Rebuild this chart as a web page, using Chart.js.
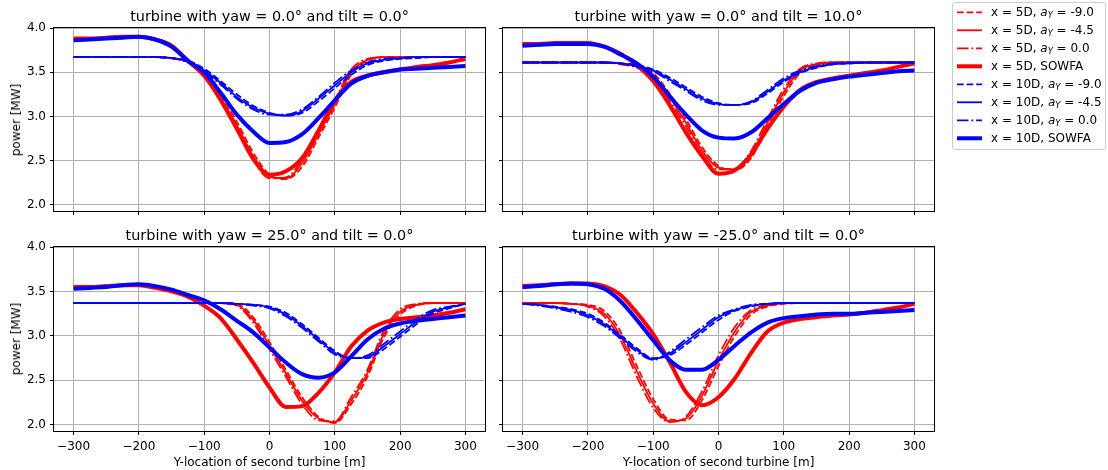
<!DOCTYPE html>
<html>
<head>
<meta charset="utf-8">
<script src="https://cdn.jsdelivr.net/npm/chart.js@4.4.1/dist/chart.umd.min.js"></script>
<style>
  html, body { margin: 0; padding: 0; background: #fff; }
  #fig { position: relative; width: 1108px; height: 470px; overflow: hidden;
         font-family: 'DejaVu Sans', sans-serif; color: #000; }
  #fig canvas { position: absolute; }
  .title { position: absolute; font-size: 14.4px; line-height: 1; white-space: nowrap; transform: translateX(-50%); }
  .ylab  { position: absolute; font-size: 12px; line-height: 1; white-space: nowrap; transform: translate(-50%, -50%) rotate(-90deg); }
  .xlab  { position: absolute; font-size: 12px; line-height: 1; white-space: nowrap; transform: translateX(-50%); }
  #legend { position: absolute; left: 952px; top: 2px; width: 154px; height: 148px; box-sizing: border-box;
            border: 1px solid #cccccc; border-radius: 3px; background: rgba(255,255,255,0.8); }
  #legend svg { position: absolute; left: 0; top: 0; }
  .lg-row { position: absolute; left: 38px; font-size: 12px; line-height: 1; white-space: nowrap; }
  .lg-row sub { font-size: 70%; font-style: italic; vertical-align: -0.25em; line-height: 0; }
</style>
</head>
<body>
<div id="fig"></div>
<script>
/* ═══════════════════════════════════════════════════════════
   Potencia de la segunda turbina vs. posición lateral
   4 paneles (yaw / tilt) + leyenda común
   ═══════════════════════════════════════════════════════════ */
(function () {
    'use strict';

    // ─── Datos ───
    const yLoc = [-300, -275, -250, -225, -200, -175, -150, -125, -100, -75, -50, -25, 0,
                  25, 50, 75, 100, 125, 150, 175, 200, 225, 250, 275, 300];

    const xTicks = [-300, -200, -100, 0, 100, 200, 300];
    const yTicks = [2.0, 2.5, 3.0, 3.5, 4.0];

    const titles = [
        'turbine with yaw = 0.0° and tilt = 0.0°',
        'turbine with yaw = 0.0° and tilt = 10.0°',
        'turbine with yaw = 25.0° and tilt = 0.0°',
        'turbine with yaw = -25.0° and tilt = 0.0°'
    ];

    const distances = ['5D', '10D'];
    const aYs = ['-9.0', '-4.5', '0.0'];

    // panel 1: yaw 0, tilt 0
    const p1_5D_a9     = [3.67,3.67,3.67,3.67,3.67,3.67,3.66,3.63,3.51,3.25,2.94,2.59,2.34,2.29,2.43,2.76,3.10,3.47,3.63,3.67,3.67,3.67,3.67,3.67,3.67];
    const p1_5D_a45    = [3.67,3.67,3.67,3.67,3.67,3.67,3.66,3.62,3.48,3.21,2.90,2.55,2.32,2.30,2.47,2.80,3.14,3.50,3.64,3.67,3.67,3.67,3.67,3.67,3.67];
    const p1_5D_a0     = [3.67,3.67,3.67,3.67,3.67,3.67,3.66,3.61,3.45,3.17,2.86,2.51,2.30,2.31,2.51,2.84,3.18,3.53,3.65,3.67,3.67,3.67,3.67,3.67,3.67];
    const p1_5D_sowfa  = [3.88,3.88,3.89,3.90,3.90,3.87,3.80,3.63,3.46,3.19,2.86,2.52,2.34,2.38,2.53,2.84,3.18,3.39,3.46,3.50,3.53,3.56,3.58,3.61,3.65];
    const p1_10D_a9    = [3.67,3.67,3.67,3.67,3.67,3.67,3.66,3.63,3.54,3.40,3.25,3.12,3.04,3.01,3.04,3.17,3.32,3.47,3.58,3.63,3.65,3.66,3.67,3.67,3.67];
    const p1_10D_a45   = [3.67,3.67,3.67,3.67,3.67,3.67,3.66,3.62,3.52,3.38,3.22,3.10,3.03,3.01,3.06,3.20,3.35,3.50,3.60,3.64,3.66,3.67,3.67,3.67,3.67];
    const p1_10D_a0    = [3.67,3.67,3.67,3.67,3.67,3.67,3.66,3.61,3.50,3.36,3.20,3.08,3.02,3.02,3.08,3.22,3.38,3.52,3.61,3.65,3.66,3.67,3.67,3.67,3.67];
    const p1_10D_sowfa = [3.86,3.87,3.88,3.89,3.90,3.87,3.79,3.63,3.50,3.27,3.02,2.83,2.70,2.71,2.80,2.98,3.18,3.37,3.46,3.50,3.53,3.54,3.55,3.56,3.57];

    // panel 2: yaw 0, tilt 10
    const p2_5D_a9     = [3.61,3.61,3.61,3.61,3.61,3.61,3.60,3.57,3.49,3.26,2.97,2.65,2.44,2.39,2.53,2.89,3.23,3.49,3.58,3.61,3.61,3.61,3.61,3.61,3.61];
    const p2_5D_a45    = [3.61,3.61,3.61,3.61,3.61,3.61,3.60,3.56,3.46,3.22,2.93,2.61,2.42,2.40,2.57,2.93,3.27,3.52,3.59,3.61,3.61,3.61,3.61,3.61,3.61];
    const p2_5D_a0     = [3.61,3.61,3.61,3.61,3.61,3.61,3.59,3.55,3.43,3.18,2.89,2.57,2.40,2.41,2.61,2.97,3.31,3.54,3.60,3.61,3.61,3.61,3.61,3.61,3.61];
    const p2_5D_sowfa  = [3.82,3.82,3.83,3.83,3.83,3.79,3.71,3.58,3.40,3.13,2.82,2.55,2.35,2.39,2.57,2.86,3.11,3.30,3.39,3.43,3.46,3.49,3.52,3.56,3.60];
    const p2_10D_a9    = [3.61,3.61,3.61,3.61,3.61,3.61,3.60,3.58,3.53,3.44,3.33,3.22,3.15,3.13,3.15,3.26,3.39,3.49,3.55,3.59,3.60,3.61,3.61,3.61,3.61];
    const p2_10D_a45   = [3.61,3.61,3.61,3.61,3.61,3.61,3.60,3.57,3.52,3.42,3.31,3.20,3.14,3.13,3.16,3.28,3.41,3.50,3.56,3.59,3.60,3.61,3.61,3.61,3.61];
    const p2_10D_a0    = [3.61,3.61,3.61,3.61,3.61,3.61,3.60,3.56,3.51,3.40,3.29,3.18,3.13,3.13,3.17,3.30,3.43,3.52,3.57,3.60,3.61,3.61,3.61,3.61,3.61];
    const p2_10D_sowfa = [3.80,3.81,3.82,3.82,3.82,3.79,3.70,3.60,3.45,3.23,3.02,2.84,2.76,2.75,2.82,2.98,3.14,3.29,3.38,3.42,3.45,3.47,3.49,3.51,3.52];

    // panel 3: yaw 25, tilt 0
    const p3_5D_a9     = [3.37,3.37,3.37,3.37,3.37,3.37,3.37,3.37,3.37,3.37,3.36,3.21,2.93,2.62,2.31,2.09,2.02,2.23,2.54,2.98,3.24,3.34,3.37,3.37,3.37];
    const p3_5D_a45    = [3.37,3.37,3.37,3.37,3.37,3.37,3.37,3.37,3.37,3.37,3.35,3.18,2.89,2.58,2.27,2.07,2.03,2.27,2.58,3.02,3.27,3.35,3.37,3.37,3.37];
    const p3_5D_a0     = [3.37,3.37,3.37,3.37,3.37,3.37,3.37,3.37,3.37,3.37,3.34,3.15,2.85,2.54,2.23,2.05,2.04,2.31,2.62,3.06,3.30,3.36,3.37,3.37,3.37];
    const p3_5D_sowfa  = [3.55,3.55,3.56,3.57,3.57,3.54,3.50,3.44,3.34,3.20,2.96,2.70,2.42,2.20,2.21,2.36,2.59,2.88,3.06,3.15,3.19,3.21,3.23,3.26,3.30];
    const p3_10D_a9    = [3.37,3.37,3.37,3.37,3.37,3.37,3.37,3.37,3.37,3.37,3.36,3.35,3.33,3.26,3.13,2.98,2.83,2.75,2.75,2.85,2.99,3.13,3.25,3.31,3.36];
    const p3_10D_a45   = [3.37,3.37,3.37,3.37,3.37,3.37,3.37,3.37,3.37,3.37,3.36,3.35,3.32,3.24,3.11,2.96,2.81,2.75,2.76,2.88,3.02,3.16,3.27,3.32,3.36];
    const p3_10D_a0    = [3.37,3.37,3.37,3.37,3.37,3.37,3.37,3.37,3.37,3.37,3.36,3.34,3.31,3.22,3.09,2.94,2.79,2.75,2.78,2.91,3.05,3.19,3.29,3.33,3.36];
    const p3_10D_sowfa = [3.53,3.54,3.55,3.57,3.58,3.56,3.52,3.46,3.40,3.30,3.17,3.04,2.87,2.70,2.57,2.53,2.59,2.77,2.96,3.08,3.14,3.17,3.19,3.21,3.23];

    // panel 4: yaw -25, tilt 0
    const p4_5D_a9     = [3.37,3.37,3.37,3.36,3.35,3.28,3.05,2.66,2.29,2.06,2.05,2.28,2.66,3.00,3.24,3.33,3.36,3.37,3.37,3.37,3.37,3.37,3.37,3.37,3.37];
    const p4_5D_a45    = [3.37,3.37,3.37,3.36,3.34,3.25,3.00,2.60,2.24,2.04,2.07,2.33,2.72,3.05,3.27,3.34,3.37,3.37,3.37,3.37,3.37,3.37,3.37,3.37,3.37];
    const p4_5D_a0     = [3.37,3.37,3.37,3.36,3.33,3.22,2.95,2.54,2.19,2.03,2.09,2.38,2.78,3.10,3.29,3.35,3.37,3.37,3.37,3.37,3.37,3.37,3.37,3.37,3.37];
    const p4_5D_sowfa  = [3.56,3.57,3.58,3.59,3.59,3.56,3.46,3.26,3.02,2.71,2.37,2.22,2.31,2.52,2.81,3.05,3.15,3.19,3.21,3.23,3.24,3.26,3.29,3.32,3.36];
    const p4_10D_a9    = [3.36,3.35,3.33,3.30,3.25,3.15,3.01,2.86,2.75,2.78,2.90,3.04,3.18,3.28,3.33,3.36,3.37,3.37,3.37,3.37,3.37,3.37,3.37,3.37,3.37];
    const p4_10D_a45   = [3.36,3.35,3.32,3.29,3.23,3.13,2.99,2.84,2.74,2.80,2.93,3.07,3.21,3.29,3.34,3.36,3.37,3.37,3.37,3.37,3.37,3.37,3.37,3.37,3.37];
    const p4_10D_a0    = [3.36,3.34,3.31,3.27,3.21,3.11,2.97,2.82,2.73,2.82,2.96,3.10,3.23,3.30,3.35,3.36,3.37,3.37,3.37,3.37,3.37,3.37,3.37,3.37,3.37];
    const p4_10D_sowfa = [3.55,3.56,3.58,3.59,3.58,3.53,3.39,3.18,2.95,2.73,2.62,2.62,2.73,2.89,3.04,3.15,3.20,3.22,3.24,3.25,3.25,3.26,3.27,3.28,3.29];

    // orden = orden de la leyenda
    const panelSeries = [
        [p1_5D_a9, p1_5D_a45, p1_5D_a0, p1_5D_sowfa, p1_10D_a9, p1_10D_a45, p1_10D_a0, p1_10D_sowfa],
        [p2_5D_a9, p2_5D_a45, p2_5D_a0, p2_5D_sowfa, p2_10D_a9, p2_10D_a45, p2_10D_a0, p2_10D_sowfa],
        [p3_5D_a9, p3_5D_a45, p3_5D_a0, p3_5D_sowfa, p3_10D_a9, p3_10D_a45, p3_10D_a0, p3_10D_sowfa],
        [p4_5D_a9, p4_5D_a45, p4_5D_a0, p4_5D_sowfa, p4_10D_a9, p4_10D_a45, p4_10D_a0, p4_10D_sowfa]
    ];

    // ─── Estilos ───
    const FONT = "'DejaVu Sans', sans-serif";
    const colorOf = { '5D': '#ff0000', '10D': '#0000ff' };
    const dashes = [[6.7, 2.9], [], [11.5, 2.9, 1.8, 2.9], []];
    const widths = [1.8, 1.8, 1.8, 4];

    // Estilo de cada serie en orden de leyenda
    const styles = [];
    const labels = [];
    distances.forEach(d => {
        aYs.forEach((a, k) => {
            styles.push({ color: colorOf[d], dash: dashes[k], width: widths[k] });
            labels.push(`x = ${d}, <i>a</i><sub>Y</sub> = ${a}`);
        });
        styles.push({ color: colorOf[d], dash: dashes[3], width: widths[3] });
        labels.push(`x = ${d}, SOWFA`);
    });

    // Geometría de los paneles (canvas) — área de ejes: 431 x 183
    const panels = [
        { left: 0,   top: 0,   h: 225, padTop: 28, xH: 14, xLabels: false, yLabels: true  },
        { left: 449, top: 0,   h: 225, padTop: 28, xH: 14, xLabels: false, yLabels: false },
        { left: 0,   top: 220, h: 250, padTop: 27, xH: 39, xLabels: true,  yLabels: true  },
        { left: 449, top: 220, h: 250, padTop: 27, xH: 39, xLabels: true,  yLabels: false }
    ];
    const CW = 495, YW = 54, PADR = 10;

    // ─── Marco completo de los ejes ───
    const framePlugin = {
        id: 'frame',
        afterDraw(chart) {
            const a = chart.chartArea;
            const ctx = chart.ctx;
            ctx.save();
            ctx.strokeStyle = '#000';
            ctx.lineWidth = 1;
            ctx.strokeRect(a.left - 0.5, a.top - 0.5, a.right - a.left + 1, a.bottom - a.top + 1);
            ctx.restore();
        }
    };

    function fmtX(v) { return v < 0 ? '\u2212' + Math.abs(v) : String(v); }

    const fig = document.getElementById('fig');

    function addText(cls, html, x, y) {
        const el = document.createElement('div');
        el.className = cls;
        el.innerHTML = html;
        el.style.left = x + 'px';
        el.style.top = y + 'px';
        fig.appendChild(el);
        return el;
    }

    // ─── Paneles ───
    panels.forEach((p, idx) => {
        const canvas = document.createElement('canvas');
        canvas.width = CW;
        canvas.height = p.h;
        canvas.style.left = p.left + 'px';
        canvas.style.top = p.top + 'px';
        canvas.style.width = CW + 'px';
        canvas.style.height = p.h + 'px';
        fig.appendChild(canvas);

        const datasets = panelSeries[idx].map((arr, i) => ({
            data: yLoc.map((x, j) => ({ x: x, y: arr[j] })),
            borderColor: styles[i].color,
            borderWidth: styles[i].width,
            borderDash: styles[i].dash,
            borderCapStyle: 'butt',
            borderJoinStyle: 'round',
            pointRadius: 0,
            fill: false,
            cubicInterpolationMode: 'monotone',
            order: 8 - i
        }));

        new Chart(canvas, {
            type: 'line',
            data: { datasets: datasets },
            plugins: [framePlugin],
            options: {
                responsive: false,
                animation: false,
                events: [],
                devicePixelRatio: 1,
                layout: { padding: { top: p.padTop, right: PADR, bottom: 0, left: 0 } },
                plugins: { legend: { display: false }, tooltip: { enabled: false } },
                scales: {
                    x: {
                        type: 'linear',
                        min: -330, max: 330,
                        afterBuildTicks: s => { s.ticks = xTicks.map(v => ({ value: v })); },
                        afterFit: s => { s.height = p.xH; },
                        border: { display: false },
                        grid: { color: '#b0b0b0', lineWidth: 1, tickColor: '#000', tickLength: 4, drawTicks: true },
                        ticks: {
                            display: p.xLabels,
                            padding: 5,
                            color: '#000',
                            maxRotation: 0,
                            font: { family: FONT, size: 12 },
                            callback: v => fmtX(v)
                        }
                    },
                    y: {
                        type: 'linear',
                        min: 1.93, max: 4.0,
                        afterBuildTicks: s => { s.ticks = yTicks.map(v => ({ value: v })); },
                        afterFit: s => { s.width = YW; },
                        border: { display: false },
                        grid: { color: '#b0b0b0', lineWidth: 1, tickColor: '#000', tickLength: 4, drawTicks: true },
                        ticks: {
                            display: p.yLabels,
                            padding: 4,
                            color: '#000',
                            font: { family: FONT, size: 12 },
                            callback: v => Number(v).toFixed(1)
                        }
                    }
                }
            }
        });

        // Textos del panel
        const cx = p.left + YW + (CW - YW - PADR) / 2;
        const axTop = p.top + p.padTop;
        const axBottom = p.top + p.h - p.xH;
        addText('title', titles[idx], cx, axTop - 19.5);
        if (p.yLabels) addText('ylab', 'power [MW]', 15.5, (axTop + axBottom) / 2);
        if (p.xLabels) addText('xlab', 'Y-location of second turbine [m]', cx, 455.5);
    });

    // ─── Leyenda ───
    const legend = document.createElement('div');
    legend.id = 'legend';
    const svgNS = 'http://www.w3.org/2000/svg';
    const svg = document.createElementNS(svgNS, 'svg');
    svg.setAttribute('width', '152');
    svg.setAttribute('height', '146');
    labels.forEach((lab, i) => {
        const cy = 9.3 + i * 18;
        const line = document.createElementNS(svgNS, 'line');
        line.setAttribute('x1', '4');
        line.setAttribute('x2', '29');
        line.setAttribute('y1', cy);
        line.setAttribute('y2', cy);
        line.setAttribute('stroke', styles[i].color);
        line.setAttribute('stroke-width', styles[i].width);
        if (styles[i].dash.length) line.setAttribute('stroke-dasharray', styles[i].dash.join(' '));
        svg.appendChild(line);

        const row = document.createElement('div');
        row.className = 'lg-row';
        row.innerHTML = lab;
        row.style.top = (cy - 6.5) + 'px';
        legend.appendChild(row);
    });
    legend.insertBefore(svg, legend.firstChild);
    fig.appendChild(legend);

})();
</script>
</body>
</html>
